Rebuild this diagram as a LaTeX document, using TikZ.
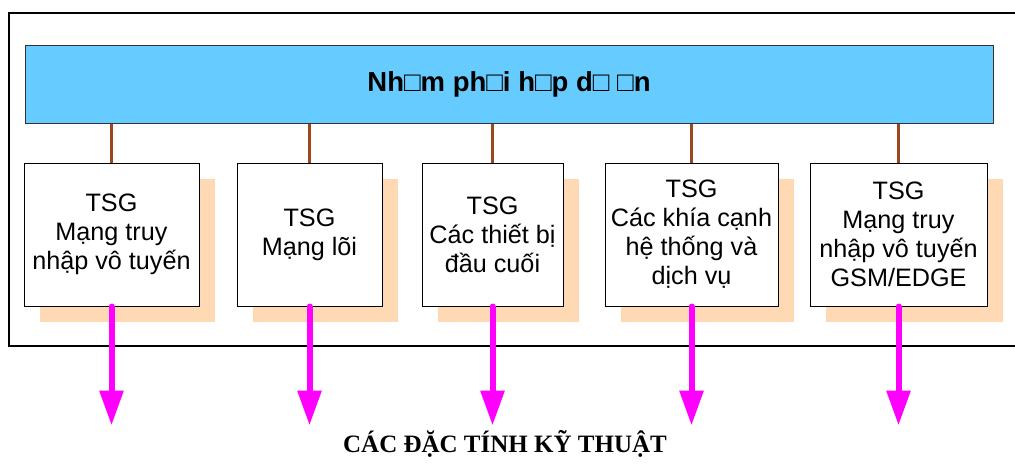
\documentclass[tikz,border=0pt]{standalone}
\usepackage{fontspec}
\setmainfont{Liberation Sans}
\newfontfamily\serifb{Liberation Serif}
\usetikzlibrary{arrows.meta,shadows}
\definecolor{barblue}{HTML}{66CCFF}
\definecolor{peach}{HTML}{FFD9B3}
\definecolor{connbrown}{HTML}{A0461E}
\definecolor{mag}{HTML}{FF00FF}
\begin{document}
\begin{tikzpicture}[x=1pt,y=-1pt,
  tsg/.style={draw=black,line width=1pt,fill=white,inner sep=0pt,
    minimum height=143pt,align=center,
    font=\fontsize{25.2}{29}\selectfont,
    drop shadow={shadow xshift=16pt,shadow yshift=-16pt,fill=peach,opacity=1}},
  bar/.style={draw=black!80,line width=1pt,fill=barblue,inner sep=0pt,
    minimum width=968pt,minimum height=78pt,
    font=\bfseries\fontsize{27.5}{32}\selectfont},
  link/.style={draw=connbrown,line width=2.2pt},
  outarrow/.style={draw=mag,line width=6pt,line cap=round,
    -{Triangle[length=35pt,width=23pt]}},
  frame/.style={draw=black,line width=2pt}]
\useasboundingbox (0,0) rectangle (1015,466);
\clip (0,0) rectangle (1015,466);
\draw[frame] (9,13) rectangle (1040,346);
\node[bar] (bar) at (509,84) {Nh□m ph□i h□p d□ □n};
\node[tsg,minimum width=175pt] (b1) at (111.5,234.5) {TSG\\Mạng truy\\nhập vô tuyến};
\node[tsg,minimum width=145pt] (b2) at (309.5,234.5) {TSG\\Mạng lõi};
\node[tsg,minimum width=141pt] (b3) at (492.5,234.5) {TSG\\Các thiết bị\\đầu cuối};
\node[tsg,minimum width=173pt] (b4) at (691.5,234.5) {TSG\\Các khía cạnh\\hệ thống và\\dịch vụ};
\node[tsg,minimum width=177pt] (b5) at (898.5,234.5) {TSG\\Mạng truy\\nhập vô tuyến\\GSM/EDGE};
\foreach \i in {1,...,5}{
  \draw[link] (b\i.north) -- (b\i.north |- bar.south);
  \coordinate (e\i) at ([yshift=-119pt]b\i.south);
  \draw[outarrow] (b\i.south) -- (e\i);
}
\node[anchor=base,font=\serifb\bfseries\fontsize{25}{30}\selectfont] (cap) at (505,452) {CÁC ĐẶC TÍNH KỸ THUẬT};
\end{tikzpicture}
\end{document}
